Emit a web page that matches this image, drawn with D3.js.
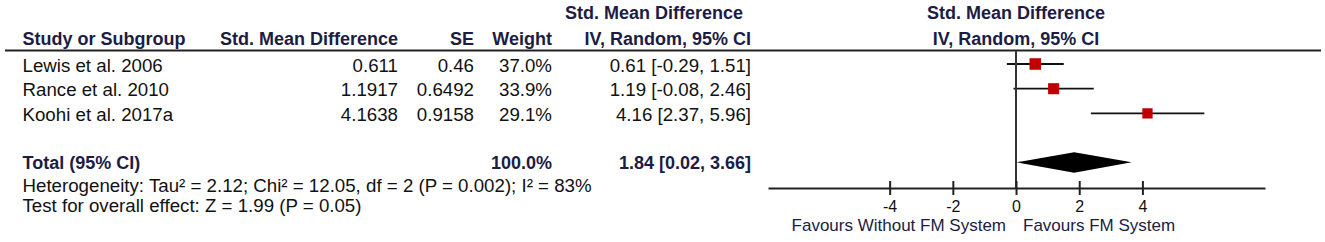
<!DOCTYPE html>
<html>
<head>
<meta charset="utf-8">
<script src="https://cdn.jsdelivr.net/npm/d3@7"></script>
<style>
  body { margin: 0; background: #fff; }
  svg { display: block; font-family: "Liberation Sans", Arial, sans-serif; }
  .hdr { font-weight: bold; font-size: 18px; fill: #1c1c44; }
  .cell { font-size: 18.7px; fill: #111; }
</style>
</head>
<body>
<svg id="forest" width="1325" height="242"></svg>
<script>
// study rows
const studies = ["Lewis et al. 2006", "Rance et al. 2010", "Koohi et al. 2017a"];
const smdValues = ["0.611", "1.1917", "4.1638"];
const seValues = ["0.46", "0.6492", "0.9158"];
const weights = [37.0, 33.9, 29.1];
const estimates = [0.61, 1.19, 4.16];
const ciLow = [-0.29, -0.08, 2.37];
const ciHigh = [1.51, 2.46, 5.96];

// pooled result
const totalEst = 1.84;
const totalLow = 0.02;
const totalHigh = 3.66;

const tickValues = [-4, -2, 0, 2, 4];
const heterogeneityText = "Heterogeneity: Tau\u00b2 = 2.12; Chi\u00b2 = 12.05, df = 2 (P = 0.002); I\u00b2 = 83%";
const overallText = "Test for overall effect: Z = 1.99 (P = 0.05)";

const svg = d3.select("#forest");
svg.append("rect").attr("width", 1325).attr("height", 242).attr("fill", "#fff");

const fmt = (v) => v.toFixed(2);
const ciLabel = (e, lo, hi) => `${fmt(e)} [${fmt(lo)}, ${fmt(hi)}]`;

// x scale of the plot panel
const x = d3.scaleLinear().domain([-7.85, 7.88]).range([768, 1265]);
// rows
const rowY = d3.scaleLinear().domain([0, 1]).range([64, 88.7]);
const axisY = 188;
const totalY = 162.3;

// column positions
const colStudy = 22.5, colSmd = 398, colSe = 474, colW = 552, colCi = 751;

// headers
svg.append("text").attr("class", "hdr").attr("x", colStudy).attr("y", 45).text("Study or Subgroup");
svg.append("text").attr("class", "hdr").attr("x", colSmd).attr("y", 45).attr("text-anchor", "end").text("Std. Mean Difference");
svg.append("text").attr("class", "hdr").attr("x", colSe).attr("y", 45).attr("text-anchor", "end").text("SE");
svg.append("text").attr("class", "hdr").attr("x", colW).attr("y", 45).attr("text-anchor", "end").text("Weight");
svg.append("text").attr("class", "hdr").attr("x", 743).attr("y", 19).attr("text-anchor", "end").text("Std. Mean Difference");
svg.append("text").attr("class", "hdr").attr("x", colCi).attr("y", 45).attr("text-anchor", "end").text("IV, Random, 95% CI");
svg.append("text").attr("class", "hdr").attr("x", x(0)).attr("y", 19).attr("text-anchor", "middle").text("Std. Mean Difference");
svg.append("text").attr("class", "hdr").attr("x", x(0)).attr("y", 45).attr("text-anchor", "middle").text("IV, Random, 95% CI");

// header rule
svg.append("line").attr("x1", 5).attr("x2", 1321).attr("y1", 50.5).attr("y2", 50.5)
  .attr("stroke", "#222").attr("stroke-width", 2);

// study rows text
const rows = svg.selectAll("g.row").data(studies).enter().append("g").attr("class", "row");
rows.append("text").attr("class", "cell").attr("x", colStudy).attr("y", (d, i) => rowY(i) + 7.5).text((d) => d);
rows.append("text").attr("class", "cell").attr("x", colSmd).attr("y", (d, i) => rowY(i) + 7.5)
  .attr("text-anchor", "end").text((d, i) => smdValues[i]);
rows.append("text").attr("class", "cell").attr("x", colSe).attr("y", (d, i) => rowY(i) + 7.5)
  .attr("text-anchor", "end").text((d, i) => seValues[i]);
rows.append("text").attr("class", "cell").attr("x", colW).attr("y", (d, i) => rowY(i) + 7.5)
  .attr("text-anchor", "end").text((d, i) => weights[i].toFixed(1) + "%");
rows.append("text").attr("class", "cell").attr("x", colCi).attr("y", (d, i) => rowY(i) + 7.5)
  .attr("text-anchor", "end").text((d, i) => ciLabel(estimates[i], ciLow[i], ciHigh[i]));

// total row
svg.append("text").attr("class", "hdr").attr("x", colStudy).attr("y", totalY + 6.5).text("Total (95% CI)");
svg.append("text").attr("class", "hdr").attr("x", colW).attr("y", totalY + 6.5).attr("text-anchor", "end").text("100.0%");
svg.append("text").attr("class", "hdr").attr("x", colCi).attr("y", totalY + 6.5).attr("text-anchor", "end")
  .text(ciLabel(totalEst, totalLow, totalHigh));
svg.append("text").attr("class", "cell").attr("x", colStudy).attr("y", 192).text(heterogeneityText);
svg.append("text").attr("class", "cell").attr("x", colStudy).attr("y", 212).text(overallText);

// zero line
svg.append("line").attr("x1", x(0)).attr("x2", x(0)).attr("y1", 51).attr("y2", axisY)
  .attr("stroke", "#333").attr("stroke-width", 2);

// CI lines + boxes
rows.append("line")
  .attr("x1", (d, i) => x(ciLow[i])).attr("x2", (d, i) => x(ciHigh[i]))
  .attr("y1", (d, i) => rowY(i)).attr("y2", (d, i) => rowY(i))
  .attr("stroke", "#111").attr("stroke-width", 1.8);
const boxSize = (w) => 1.9 * Math.sqrt(w);
rows.append("rect")
  .attr("x", (d, i) => x(estimates[i]) - boxSize(weights[i]) / 2)
  .attr("y", (d, i) => rowY(i) - boxSize(weights[i]) / 2)
  .attr("width", (d, i) => boxSize(weights[i]))
  .attr("height", (d, i) => boxSize(weights[i]))
  .attr("fill", "#c00000");

// pooled diamond
svg.append("polygon")
  .attr("points", [
    [x(totalLow), totalY], [x(totalEst), totalY - 10],
    [x(totalHigh), totalY], [x(totalEst), totalY + 10.5]
  ].map((p) => p.join(",")).join(" "))
  .attr("fill", "#000");

// axis
const axis = svg.append("g").attr("transform", `translate(0,${axisY})`)
  .call(d3.axisBottom(x).tickValues(tickValues).tickFormat((d) => String(d))
    .tickSize(7).tickSizeOuter(0).tickPadding(5.5));
axis.select(".domain").attr("stroke", "#222").attr("stroke-width", 2);
axis.selectAll(".tick line").attr("y1", -7).attr("stroke", "#222").attr("stroke-width", 2);
axis.selectAll(".tick text").attr("font-size", 16).attr("fill", "#111")
  .attr("font-family", "'Liberation Sans', Arial, sans-serif");

svg.append("text").attr("class", "cell").style("font-size", "17px").attr("x", x(0) - 10).attr("y", 231)
  .attr("text-anchor", "end").style("fill", "#1c1c44").text("Favours Without FM System");
svg.append("text").attr("class", "cell").style("font-size", "17px").attr("x", x(0) + 7).attr("y", 231)
  .style("fill", "#1c1c44").text("Favours FM System");
</script>
</body>
</html>
